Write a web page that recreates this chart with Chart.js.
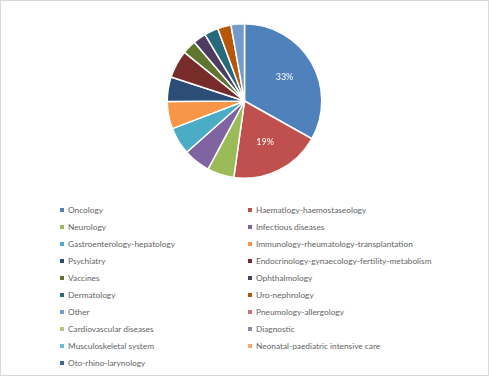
<!DOCTYPE html>
<html>
<head>
<meta charset="utf-8">
<script src="https://cdn.jsdelivr.net/npm/chart.js@4/dist/chart.umd.min.js"></script>
<style>
  html, body { margin: 0; padding: 0; background: #fff; }
  #frame {
    position: relative;
    width: 487px; height: 374px;
    border: 1px solid #d9d9d9;
    background: #fff;
    overflow: hidden;
  }
  #pieBox { position: absolute; left: 0; top: 22px; width: 487px; height: 156px; }
  #legend {
    position: absolute; left: 59px; top: 200px;
    display: grid; grid-template-columns: 188px 230px;
    grid-auto-rows: 17px;
    font-family: Lato, "Open Sans", sans-serif; font-size: 8.3px; color: #636363;
  }
  #legend div { display: flex; align-items: center; white-space: nowrap; }
  #legend span.box { width: 4px; height: 4px; margin-right: 4px; display: inline-block; }
</style>
</head>
<body>
<div id="frame">
  <div id="pieBox"><canvas id="chart"></canvas></div>
  <div id="legend"></div>
</div>
<script>
const categories = [
  "Oncology", "Haematlogy-haemostaseology", "Neurology", "Infectious diseases",
  "Gastroenterology-hepatology", "Immunology-rheumatology-transplantation",
  "Psychiatry", "Endocrinology-gynaecology-fertility-metabolism",
  "Vaccines", "Ophthalmology", "Dermatology", "Uro-nephrology",
  "Other", "Pneumology-allergology", "Cardiovascular diseases", "Diagnostic",
  "Musculoskeletal system", "Neonatal-paediatric intensive care", "Oto-rhino-larynology"
];
const shares = [33, 19, 5.6, 5.6, 5.7, 5.7, 5.1, 5.8, 2.9, 2.7, 2.9, 2.8, 2.8, 0, 0, 0, 0, 0, 0];
const shownLabels = ["33%", "19%"];
const colors = [
  "#4f81bd", "#c0504d", "#9bbb59", "#8064a2", "#4bacc6", "#f79646",
  "#2c4d75", "#772c2a", "#5f7530", "#4d3b62", "#276a7c", "#b65708",
  "#729aca", "#cd7371", "#afc97a", "#9983b5", "#6fbdd1", "#f9ab6b", "#3a679c"
];

// percent labels, placed a bit outside the arc middle like Excel does
const sliceLabels = {
  id: "sliceLabels",
  afterDatasetsDraw(chart) {
    const ctx = chart.ctx;
    const arcs = chart.getDatasetMeta(0).data;
    ctx.save();
    ctx.fillStyle = "#ffffff";
    ctx.font = "9px Lato, 'Open Sans', sans-serif";
    ctx.textAlign = "center";
    ctx.textBaseline = "middle";
    shownLabels.forEach((txt, i) => {
      const a = arcs[i].getProps(["x", "y", "startAngle", "endAngle", "outerRadius"], true);
      const mid = (a.startAngle + a.endAngle) / 2;
      const r = a.outerRadius * 0.6;
      ctx.fillText(txt, a.x + Math.cos(mid) * r, a.y + Math.sin(mid) * r);
    });
    ctx.restore();
  }
};

const chart = new Chart(document.getElementById("chart").getContext("2d"), {
  type: "pie",
  data: {
    labels: categories,
    datasets: [{
      data: shares,
      backgroundColor: colors,
      borderColor: "#ffffff",
      borderWidth: 1.5
    }]
  },
  options: {
    responsive: true,
    maintainAspectRatio: false,
    animation: false,
    layout: { padding: 0 },
    plugins: {
      legend: { display: false },
      tooltip: { enabled: false }
    }
  },
  plugins: [sliceLabels]
});

// two-column legend
const legend = document.getElementById("legend");
categories.forEach((name, i) => {
  const item = document.createElement("div");
  const box = document.createElement("span");
  box.className = "box";
  box.style.background = colors[i];
  item.appendChild(box);
  item.appendChild(document.createTextNode(name));
  legend.appendChild(item);
});
</script>
</body>
</html>
